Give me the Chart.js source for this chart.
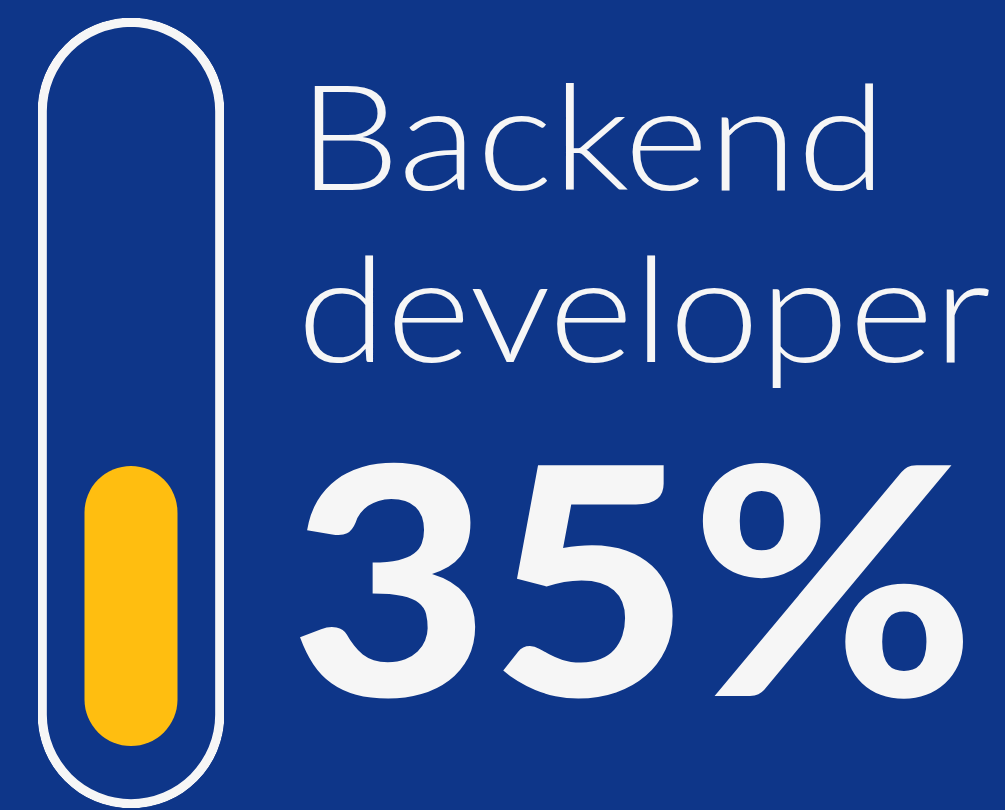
<!DOCTYPE html>
<html>
<head>
<meta charset="utf-8">
<title>Backend developer</title>
<script src="https://cdn.jsdelivr.net/npm/chart.js@4.4.1/dist/chart.umd.min.js"></script>
<style>
	html, body {
		margin: 0;
		padding: 0;
		background: #0e3689;
		overflow: hidden;
	}
	#wrap {
		position: relative;
		width: 1005px;
		height: 810px;
	}
	#gauge {
		position: absolute;
		left: 0;
		top: 0;
	}
	.label {
		position: absolute;
		color: #f6f6f6;
		font-family: Lato, "Open Sans", sans-serif;
		white-space: nowrap;
		line-height: 1;
		transform-origin: 0 0;
	}
	.role {
		font-weight: 300;
		font-size: 146px;
	}
	.share {
		font-weight: 900;
		font-size: 318px;
	}
</style>
</head>
<body>
<div id="wrap">
	<canvas id="gauge" width="1005" height="810"></canvas>
	<div class="label role" id="line1" style="left: 298px; top: 61px; transform: scaleX(1.105);">Backend</div>
	<div class="label role" id="line2" style="left: 297px; top: 233px; transform: scaleX(1.11);">developer</div>
	<div class="label share" id="value" style="left: 290px; top: 414px; transform: scaleX(1.085);"></div>
</div>
<script>
	const categories = ["Backend developer"];
	const shareValues = [35];
	// the outline track always stands for the whole 100%
	const trackValues = [100];

	const yellow = "#ffbe10";
	const white = "#f6f6f6";

	document.getElementById("value").textContent = shareValues[0] + "%";

	const context = document.getElementById("gauge").getContext("2d");
	const chart = new Chart(context, {
		type: "bar",
		data: {
			labels: categories,
			datasets: [
				{
					label: "share",
					data: shareValues,
					yAxisID: "y",
					backgroundColor: yellow,
					borderWidth: 0,
					borderRadius: 200,
					borderSkipped: false,
					barPercentage: 0.5,
					categoryPercentage: 1,
					grouped: false
				},
				{
					label: "track",
					data: trackValues,
					yAxisID: "yTrack",
					backgroundColor: "rgba(0,0,0,0)",
					borderColor: white,
					borderWidth: 8.5,
					borderRadius: 200,
					borderSkipped: false,
					barPercentage: 1,
					categoryPercentage: 1,
					grouped: false
				}
			]
		},
		options: {
			responsive: false,
			animation: false,
			layout: {
				padding: {
					left: 38,
					right: 781,
					top: 18,
					bottom: 2
				}
			},
			scales: {
				x: {
					display: false,
					grid: { display: false }
				},
				y: {
					display: false,
					min: -7.75,
					max: 91
				},
				yTrack: {
					display: false,
					min: 0,
					max: 100
				}
			},
			plugins: {
				legend: { display: false },
				tooltip: { enabled: false }
			}
		}
	});
</script>
</body>
</html>
